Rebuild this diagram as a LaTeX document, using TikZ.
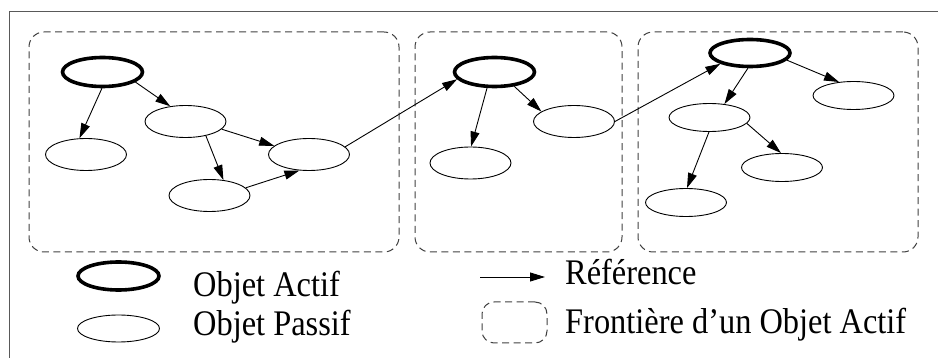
\documentclass[tikz,border=0pt]{standalone}
\usepackage{fontspec}
\setmainfont{Liberation Serif}
\newfontfamily\lblfont[FakeStretch=0.9]{Liberation Serif}
\usetikzlibrary{shapes.geometric,arrows.meta}
\tikzset{
  passive/.style={draw, ellipse, line width=0.9pt, minimum width=81pt, minimum height=32pt, inner sep=0pt},
  active/.style={draw, ellipse, line width=3.6pt, minimum width=80pt, minimum height=29pt, inner sep=0pt},
  boundary/.style={draw=black!75, line width=1pt, dash pattern=on 7pt off 4.5pt, rounded corners=15pt, inner sep=0pt},
  ref/.style={-{Triangle[length=15pt,width=9pt]}, line width=0.9pt},
  lbl/.style={anchor=base west, inner sep=0pt, font=\lblfont\fontsize{36}{40}\selectfont}
}
\begin{document}
\begin{tikzpicture}[x=1pt,y=-1pt]
\useasboundingbox (0,0) rectangle (938,358);
% outer frame (top and left only)
\draw[black!65, line width=1.5pt] (9.5,358) -- (9.5,11.5) -- (938,11.5);

% boundaries
\node[boundary, minimum width=370pt, minimum height=220pt] (B1) at (214,142) {};
\node[boundary, minimum width=207pt, minimum height=220pt] (B2) at (518.5,142) {};
\node[boundary, minimum width=280pt, minimum height=220pt] (B3) at (778,142) {};

% box 1
\node[active] (A1) at (102.5,72) {};
\node[passive] (P1) at (86,154.5) {};
\node[passive] (P2) at (185.5,121.5) {};
\node[passive] (P3) at (309,154.5) {};
\node[passive] (P4) at (209.5,195.5) {};
% box 2
\node[active] (A2) at (494.5,72) {};
\node[passive] (P5) at (470.5,163) {};
\node[passive] (P6) at (574,121.5) {};
% box 3
\node[active, minimum height=27pt] (A3) at (750,53) {};
\node[passive, minimum height=28pt] (P7) at (853.5,95.5) {};
\node[passive, minimum height=28pt] (P8) at (709.5,117.5) {};
\node[passive, minimum height=28pt] (P9) at (782,167.5) {};
\node[passive, minimum height=28pt] (P10) at (686,202.5) {};

% references
\draw[ref] (A1.268) -- (P1.112);
\draw[ref] (A1.-17) -- (P2.135);
\draw[ref] (P2.-12) -- (P3.166);
\draw[ref] (P2.-35) -- (P4.48);
\draw[ref] (P4.12) -- (P3.239);
\draw[ref] (P3.12) -- (A2.191);
\draw[ref] (A2.245) -- (P5.88);
\draw[ref] (A2.-36) -- (P6.163);
\draw[ref] (P6.0) -- (A3.200);
\draw[ref] (A3.-11) -- (P7.137);
\draw[ref] (A3.262) -- (P8.42);
\draw[ref] (P8.-9) -- (P9.94);
\draw[ref] (P8.268) -- (P10.86);

% legend
\node[active, minimum width=81pt, minimum height=28pt] (LA) at (118.5,276) {};
\node[passive, minimum width=82pt, minimum height=27pt] (LP) at (118.5,328.5) {};
\node[lbl] (TA) at (193,297) {Objet Actif};
\node[lbl] (TP) at (193,335) {Objet Passif};
\coordinate (R0) at (480,277);
\coordinate (R1) at (545,277);
\draw[ref] (R0) -- (R1);
\node[lbl] (TR) at (565,285) {Référence};
\node[boundary, rounded corners=12pt, minimum width=65pt, minimum height=41pt] (LB) at (514.5,322.5) {};
\node[lbl] (TB) at (565,334) {Frontière d’un Objet Actif};
\end{tikzpicture}
\end{document}
